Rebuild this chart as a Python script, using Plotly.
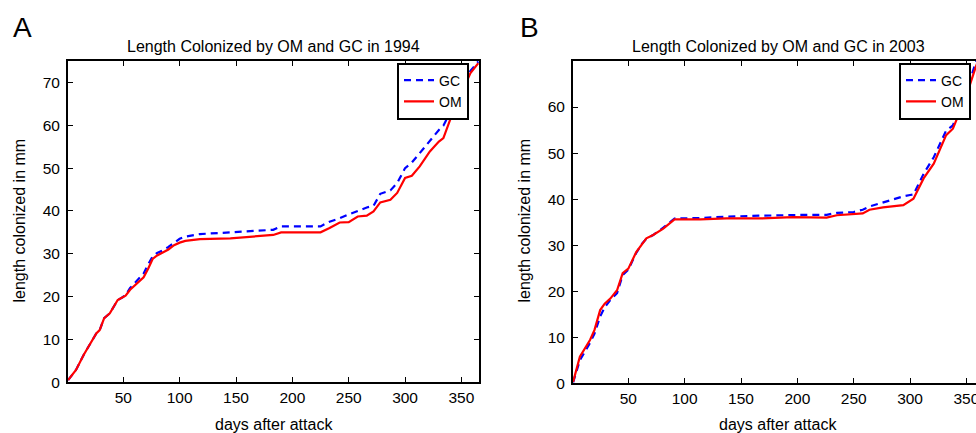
import plotly.graph_objects as go

# ---------------- data ----------------
A_days = [1, 8, 15, 22, 26, 29, 33, 38, 45, 49, 52, 56, 60, 64, 68, 72, 76, 80, 85, 90, 95, 100, 105, 118,
          145, 177, 183, 190, 215, 225, 233, 242, 250, 258, 266, 272, 278, 287, 293, 300, 306, 313, 322,
          330, 334, 341, 352, 358, 365]
A_om = [0.5, 2.9, 6.5, 9.5, 11.4, 12.2, 15.0, 16.1, 19.2, 19.8, 20.2, 21.6, 22.5, 23.5, 24.5, 26.5, 28.8,
        29.6, 30.3, 31.0, 32.0, 32.6, 33.0, 33.4, 33.6, 34.2, 34.4, 35.0, 35.0, 35.0, 36.0, 37.3, 37.4,
        38.7, 38.9, 39.9, 42.0, 42.6, 44.2, 47.7, 48.2, 50.4, 53.9, 56.2, 57.0, 62.0, 68.7, 72.2, 74.5]
A_gc = [0.5, 2.9, 6.5, 9.5, 11.4, 12.2, 15.0, 16.1, 19.2, 19.8, 20.4, 22.0, 23.2, 24.3, 25.4, 27.5, 29.4,
        30.2, 30.8, 31.6, 32.6, 33.5, 34.0, 34.6, 35.0, 35.4, 35.6, 36.4, 36.4, 36.4, 37.5, 38.3, 39.2,
        40.0, 40.8, 41.2, 44.0, 44.8, 46.5, 50.0, 51.3, 53.5, 56.5, 58.9, 59.9, 63.6, 70.0, 72.7, 74.9]

B_days = [1, 7, 16, 20, 25, 29, 34, 40, 45, 50, 57, 62, 66, 72, 81, 91, 114, 137, 167, 196, 211, 226, 235,
          250, 258, 264, 276, 294, 300, 303, 312, 321, 332, 338, 347, 352, 358, 365]
B_om = [0.3, 5.8, 9.4, 11.6, 15.9, 17.3, 18.4, 20.2, 23.9, 24.9, 28.5, 30.3, 31.5, 32.2, 33.6, 35.6, 35.6,
        35.8, 35.8, 36.1, 36.0, 36.0, 36.5, 36.7, 36.9, 37.7, 38.2, 38.7, 39.6, 40.1, 44.5, 47.7, 53.9,
        55.3, 60.7, 64.0, 68.5, 73.0]
B_gc = [0.2, 5.0, 8.8, 10.8, 14.5, 16.5, 18.1, 19.6, 23.5, 24.7, 28.3, 30.3, 31.4, 32.2, 33.8, 35.8, 35.9,
        36.2, 36.4, 36.6, 36.6, 36.6, 37.0, 37.2, 37.7, 38.4, 39.3, 40.6, 40.9, 41.0, 45.5, 49.1, 54.9,
        56.0, 61.5, 64.9, 69.5, 74.0]

x_ticks = [50, 100, 150, 200, 250, 300, 350]
A_yticks = [0, 10, 20, 30, 40, 50, 60, 70]
B_yticks = [0, 10, 20, 30, 40, 50, 60]
titles = ["Length Colonized by OM and GC in 1994", "Length Colonized by OM and GC in 2003"]
panel_letters = ["A", "B"]

# ---------------- figure ----------------
W, H = 976, 433
FONT = "Liberation Sans, Arial, sans-serif"
fig = go.Figure()

GC_STYLE = dict(color="#0000FF", width=2.2, dash="7px,5px")
OM_STYLE = dict(color="#FF0000", width=2.2)

fig.add_trace(go.Scatter(x=A_days, y=A_gc, mode="lines", name="GC", line=GC_STYLE,
                         xaxis="x", yaxis="y", legend="legend"))
fig.add_trace(go.Scatter(x=A_days, y=A_om, mode="lines", name="OM", line=OM_STYLE,
                         xaxis="x", yaxis="y", legend="legend"))
fig.add_trace(go.Scatter(x=B_days, y=B_gc, mode="lines", name="GC", line=GC_STYLE,
                         xaxis="x2", yaxis="y2", legend="legend2"))
fig.add_trace(go.Scatter(x=B_days, y=B_om, mode="lines", name="OM", line=OM_STYLE,
                         xaxis="x2", yaxis="y2", legend="legend2"))

def px_x(p):
    return p / W

def px_y(p):
    return 1 - p / H

axis_common = dict(showgrid=False, zeroline=False, showline=True, linecolor="black", linewidth=2,
                   ticks="inside", ticklen=5, tickwidth=1, tickcolor="black", automargin=False,
                   tickfont=dict(family=FONT, size=15.5, color="black"))
xaxis_common = dict(ticklabelstandoff=0, ticklabeloverflow="allow", **axis_common)
yaxis_common = dict(ticklabelstandoff=3, **axis_common)

legend_common = dict(xanchor="left", yanchor="top", bordercolor="black", borderwidth=2,
                     bgcolor="white", font=dict(family=FONT, size=14, color="black"),
                     tracegroupgap=0, itemwidth=30)

fig.update_layout(
    width=W, height=H,
    margin=dict(l=0, r=0, t=0, b=0, autoexpand=False),
    paper_bgcolor="white", plot_bgcolor="white",
    font=dict(family=FONT, color="black"),
    xaxis=dict(domain=[px_x(68), px_x(479)], range=[0.9, 365.6], tickvals=x_ticks,
               mirror="ticks", anchor="y", **xaxis_common),
    yaxis=dict(domain=[px_y(382.3), px_y(61)], range=[0, 75], tickvals=A_yticks,
               mirror="ticks", anchor="x", **yaxis_common),
    xaxis2=dict(domain=[px_x(573), 1], range=[0.9, 358.5], tickvals=x_ticks,
                mirror="ticks", anchor="y2", **xaxis_common),
    yaxis2=dict(domain=[px_y(383.3), px_y(61)], range=[0, 70], tickvals=B_yticks,
                anchor="x2", **yaxis_common),
    legend=dict(x=px_x(397), y=px_y(62.5), **legend_common),
    legend2=dict(x=px_x(899), y=px_y(62.5), **legend_common),
    showlegend=True,
)

annotations = []
for i, (cx, letter_x) in enumerate([(273.5, 22.5), (778.3, 529.5)]):
    annotations.append(dict(text=titles[i], x=px_x(cx), y=px_y(46.5), xref="paper", yref="paper",
                            xanchor="center", yanchor="middle", showarrow=False,
                            font=dict(family=FONT, size=16, color="black")))
    annotations.append(dict(text=panel_letters[i], x=px_x(letter_x), y=px_y(27), xref="paper",
                            yref="paper", xanchor="center", yanchor="middle", showarrow=False,
                            font=dict(family=FONT, size=28, color="black")))
for cx in [273.5, 778.3]:
    annotations.append(dict(text="days after attack", x=px_x(cx), y=px_y(424.5), xref="paper",
                            yref="paper", xanchor="center", yanchor="middle", showarrow=False,
                            font=dict(family=FONT, size=16, color="black")))
for cx in [18.5, 523.5]:
    annotations.append(dict(text="length colonized in mm", x=px_x(cx), y=px_y(221), xref="paper",
                            yref="paper", xanchor="center", yanchor="middle", showarrow=False,
                            textangle=-90, font=dict(family=FONT, size=16, color="black")))
fig.update_layout(annotations=annotations)

fig.write_html("out.html")
